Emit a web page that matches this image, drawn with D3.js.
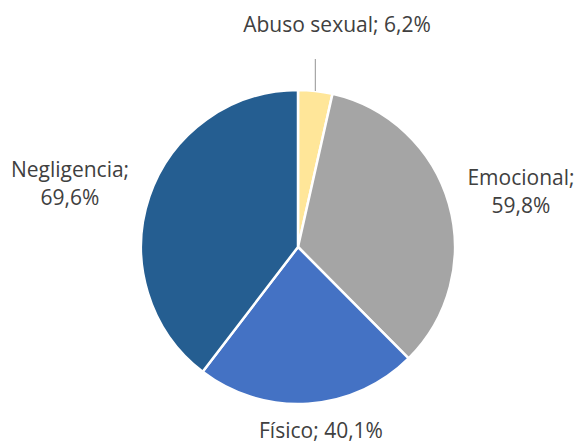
<!DOCTYPE html>
<html>
<head>
<meta charset="utf-8">
<script src="https://cdn.jsdelivr.net/npm/d3@7"></script>
<style>
  body { margin: 0; background: #fff; }
  svg text { font-family: "Open Sans", sans-serif; font-size: 21px; fill: #404040; }
</style>
</head>
<body>
<svg id="chart" width="576" height="443"></svg>
<script>
const categories = ["Abuso sexual", "Emocional", "Físico", "Negligencia"];
const values = [6.2, 59.8, 40.1, 69.6];
const colors = ["#FFE699", "#A5A5A5", "#4472C4", "#255E91"];

const svg = d3.select("#chart");
const cx = 298, cy = 247, radius = 157;

const g = svg.append("g")
    .attr("transform", `translate(${cx},${cy})`);

const pie = d3.pie().sort(null);
const arc = d3.arc().innerRadius(0).outerRadius(radius);

const arcs = pie(values);

g.selectAll("path")
    .data(arcs)
    .enter()
    .append("path")
    .attr("d", arc)
    .attr("fill", (d, i) => colors[i])
    .attr("stroke", "#fff")
    .attr("stroke-width", 2.5)
    .attr("stroke-linejoin", "round");

// label positions (relative to pie center), two-line labels split at "; "
const labelPos = [
    { x: 39, y: -215, lines: 1 },
    { x: 223, y: -62, lines: 2 },
    { x: 23, y: 191, lines: 1 },
    { x: -228, y: -70, lines: 2 }
];

// leader line for the small slice
const small = arcs[0];
const mid = (small.startAngle + small.endAngle) / 2;
const lx = Math.sin(mid) * radius;
g.append("line")
    .attr("x1", lx).attr("x2", lx)
    .attr("y1", -radius + 1).attr("y2", -radius - 31)
    .attr("stroke", "#A6A6A6")
    .attr("stroke-width", 1.2);

const fmt = v => d3.format(".1f")(v).replace(".", ",") + "%";

categories.forEach((c, i) => {
    const p = labelPos[i];
    const t = g.append("text")
        .attr("text-anchor", "middle")
        .attr("x", p.x)
        .attr("y", p.y);
    if (p.lines === 1) {
        t.text(`${c}; ${fmt(values[i])}`);
    } else {
        t.append("tspan").attr("x", p.x).text(`${c};`);
        t.append("tspan").attr("x", p.x).attr("dy", 28).text(fmt(values[i]));
    }
});
</script>
</body>
</html>
